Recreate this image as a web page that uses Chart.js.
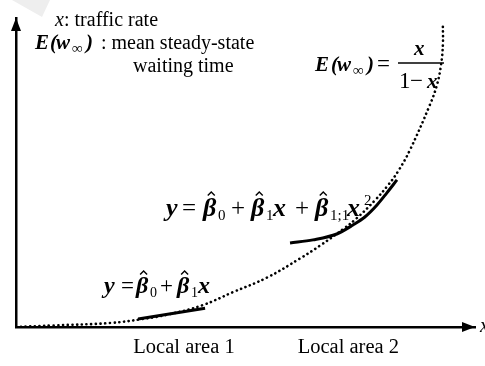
<!DOCTYPE html>
<html>
<head>
<meta charset="utf-8">
<script src="https://cdn.jsdelivr.net/npm/chart.js@4.4.1/dist/chart.umd.min.js"></script>
<style>
  html, body { margin: 0; padding: 0; background: #fff; }
  #wrap { width: 485px; height: 366px; }
</style>
</head>
<body>
<div id="wrap"><canvas id="chart"></canvas></div>
<script>
// traffic rate x (0..1) and mean steady-state waiting time E(w) (scaled 0..1)
const rate = [0, 0.081, 0.205, 0.277, 0.336, 0.407, 0.473, 0.547, 0.619, 0.662, 0.712, 0.743, 0.782, 0.810, 0.832, 0.858, 0.902, 0.917, 0.926, 0.930, 0.930];
const meanWait = [0, 0.005, 0.013, 0.026, 0.042, 0.071, 0.113, 0.160, 0.222, 0.263, 0.316, 0.353, 0.410, 0.458, 0.503, 0.572, 0.720, 0.783, 0.848, 0.913, 0.977];

// linear fit over local area 1
const linFitX = [0.266, 0.412];
const linFitY = [0.026, 0.061];

// quadratic fit over local area 2
const quadFitX = [0.597, 0.647, 0.699, 0.734, 0.760, 0.786, 0.808, 0.830];
const quadFitY = [0.272, 0.282, 0.301, 0.330, 0.356, 0.394, 0.434, 0.476];

// area labels under the axis and where they sit on the rate axis
const areaLabels = ['Local area 1', 'Local area 2'];
const areaCenters = [0.366, 0.724];

const SERIF = '"Liberation Serif", "Times New Roman", serif';

const toPts = (xs, ys) => xs.map((x, i) => ({ x: x, y: ys[i] }));

// draws text pieces on one baseline; each piece has its own left edge,
// font and vertical offset, and beta pieces can carry a hat
function drawRuns(ctx, y, parts) {
  parts.forEach(p => {
    ctx.font = p.f;
    const w = ctx.measureText(p.t).width;
    ctx.fillText(p.t, p.x, y + (p.dy || 0));
    if (p.hat) {
      const cx = p.x + w * 0.62;
      const top = y - p.hat;
      ctx.beginPath();
      ctx.moveTo(cx - 3.5, top + 3.5);
      ctx.lineTo(cx, top);
      ctx.lineTo(cx + 3.5, top + 3.5);
      ctx.lineWidth = 1.4;
      ctx.stroke();
    }
  });
}

const annotations = {
  id: 'annotations',
  beforeDraw(chart) {
    const ctx = chart.ctx;
    ctx.save();
    ctx.fillStyle = '#eeeeee';
    ctx.beginPath();
    ctx.moveTo(12, 0);
    ctx.lineTo(50, 0);
    ctx.lineTo(42, 17);
    ctx.closePath();
    ctx.fill();
    ctx.restore();
  },
  afterDraw(chart) {
    const ctx = chart.ctx;
    const a = chart.chartArea;
    const xs = chart.scales.x;
    ctx.save();
    ctx.fillStyle = '#000';
    ctx.strokeStyle = '#000';

    // arrow heads
    ctx.beginPath();
    ctx.moveTo(a.left, a.top);
    ctx.lineTo(a.left - 5, a.top + 13);
    ctx.lineTo(a.left + 5, a.top + 13);
    ctx.closePath();
    ctx.fill();
    ctx.beginPath();
    ctx.moveTo(a.right, a.bottom);
    ctx.lineTo(a.right - 13, a.bottom - 5);
    ctx.lineTo(a.right - 13, a.bottom + 5);
    ctx.closePath();
    ctx.fill();

    ctx.textBaseline = 'alphabetic';
    ctx.textAlign = 'left';
    const reg = '20px ' + SERIF;
    const it = 'italic 20px ' + SERIF;
    const eBi = 'bold italic 21px ' + SERIF;
    const eInf = 'bold 15px ' + SERIF;
    const bi = 'bold italic 26px ' + SERIF;
    const op = '25px ' + SERIF;
    const sub = '15px ' + SERIF;
    const bi1 = 'bold italic 24px ' + SERIF;
    const op1 = '23px ' + SERIF;
    const sub1 = '14px ' + SERIF;

    // axis name at the tip of the rate axis
    ctx.font = it;
    ctx.fillText('x', a.right + 5, a.bottom + 5);

    // legend text, top left
    drawRuns(ctx, 26, [
      { x: 55, t: 'x', f: it },
      { x: 64, t: ': traffic rate', f: reg }
    ]);
    drawRuns(ctx, 49, [
      { x: 35, t: 'E', f: eBi },
      { x: 50, t: '(', f: eBi },
      { x: 56, t: 'w', f: eBi },
      { x: 72, t: '\u221E', f: eInf, dy: 4 },
      { x: 86, t: ')', f: eBi },
      { x: 101, t: ': mean steady-state', f: reg }
    ]);
    ctx.font = reg;
    ctx.fillText('waiting time', 133, 72);

    // E(w) = x / (1 - x)
    drawRuns(ctx, 71, [
      { x: 315, t: 'E', f: eBi },
      { x: 331, t: '(', f: eBi },
      { x: 337, t: 'w', f: eBi },
      { x: 353, t: '\u221E', f: eInf, dy: 4 },
      { x: 367, t: ')', f: eBi },
      { x: 377, t: '=', f: op1 }
    ]);
    ctx.beginPath();
    ctx.moveTo(398, 63);
    ctx.lineTo(444, 63);
    ctx.lineWidth = 1.5;
    ctx.stroke();
    drawRuns(ctx, 55, [{ x: 414, t: 'x', f: eBi }]);
    drawRuns(ctx, 88, [
      { x: 399, t: '1', f: op1 },
      { x: 410, t: '\u2212', f: op1 },
      { x: 427, t: 'x', f: eBi }
    ]);

    // quadratic model
    drawRuns(ctx, 216, [
      { x: 166, t: 'y', f: bi },
      { x: 182, t: '=', f: op },
      { x: 203, t: '\u03B2', f: bi, hat: 24 },
      { x: 218, t: '0', f: sub, dy: 4 },
      { x: 231, t: '+', f: op },
      { x: 251, t: '\u03B2', f: bi, hat: 24 },
      { x: 266, t: '1', f: sub, dy: 4 },
      { x: 273, t: 'x', f: bi },
      { x: 295, t: '+', f: op },
      { x: 315, t: '\u03B2', f: bi, hat: 24 },
      { x: 330, t: '1;1', f: sub, dy: 4 },
      { x: 347, t: 'x', f: bi },
      { x: 364, t: '2', f: sub, dy: -11 }
    ]);

    // linear model
    drawRuns(ctx, 293, [
      { x: 104, t: 'y', f: bi1 },
      { x: 121, t: '=', f: op1 },
      { x: 136, t: '\u03B2', f: bi1, hat: 22 },
      { x: 150, t: '0', f: sub1, dy: 4 },
      { x: 160, t: '+', f: op1 },
      { x: 177, t: '\u03B2', f: bi1, hat: 22 },
      { x: 191, t: '1', f: sub1, dy: 4 },
      { x: 198, t: 'x', f: bi1 }
    ]);

    // area names below the axis
    ctx.textAlign = 'center';
    ctx.font = '20.5px ' + SERIF;
    areaLabels.forEach((lab, i) => {
      ctx.fillText(lab, xs.getPixelForValue(areaCenters[i]), 353);
    });
    ctx.restore();
  }
};

new Chart(document.getElementById('chart'), {
  type: 'scatter',
  data: {
    datasets: [
      {
        data: toPts(rate, meanWait),
        showLine: true,
        borderColor: '#000',
        borderWidth: 2.6,
        borderDash: [0.1, 4.6],
        borderCapStyle: 'round',
        tension: 0.4,
        pointRadius: 0
      },
      {
        data: toPts(linFitX, linFitY),
        showLine: true,
        borderColor: '#000',
        borderWidth: 3,
        pointRadius: 0
      },
      {
        data: toPts(quadFitX, quadFitY),
        showLine: true,
        borderColor: '#000',
        borderWidth: 3,
        cubicInterpolationMode: 'monotone',
        pointRadius: 0
      }
    ]
  },
  options: {
    responsive: true,
    maintainAspectRatio: false,
    animation: false,
    layout: { padding: { left: 8, right: 10, top: 18, bottom: 31 } },
    plugins: {
      legend: { display: false },
      tooltip: { enabled: false }
    },
    scales: {
      x: {
        type: 'linear', min: 0, max: 1,
        grid: { display: false },
        ticks: { display: false },
        border: { display: true, color: '#000', width: 2.5 }
      },
      y: {
        type: 'linear', min: 0, max: 1,
        grid: { display: false },
        ticks: { display: false },
        border: { display: true, color: '#000', width: 2.5 }
      }
    }
  },
  plugins: [annotations]
});
</script>
</body>
</html>
